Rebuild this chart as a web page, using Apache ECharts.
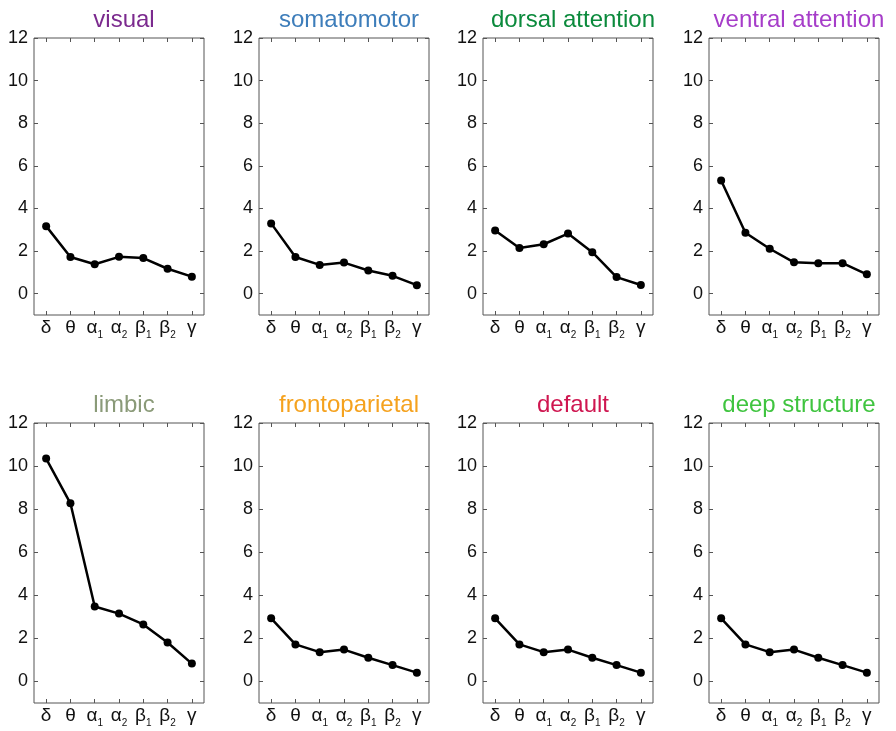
<!DOCTYPE html>
<html>
<head>
<meta charset="utf-8">
<script src="https://cdn.jsdelivr.net/npm/echarts@6/dist/echarts.min.js"></script>
<style>html,body{margin:0;padding:0;background:#fff;}#c{width:896px;height:731px;}</style>
</head>
<body>
<div id="c"></div>
<script>
// ---- data ----
var bands = ['δ', 'θ', 'α1', 'α2', 'β1', 'β2', 'γ'];
var yTicks = [0, 2, 4, 6, 8, 10, 12];
var panelNames = ['visual', 'somatomotor', 'dorsal attention', 'ventral attention',
                  'limbic', 'frontoparietal', 'default', 'deep structure'];
var titleColors = ['#7b2a8e', '#3d7dba', '#0b8a3c', '#a63dc9',
                   '#8a9a78', '#f5a21e', '#cf1650', '#3fc43f'];
var visual         = [3.17, 1.72, 1.38, 1.73, 1.67, 1.17, 0.80];
var somatomotor    = [3.30, 1.72, 1.35, 1.46, 1.09, 0.84, 0.40];
var dorsalAtt      = [2.97, 2.14, 2.32, 2.82, 1.95, 0.78, 0.41];
var ventralAtt     = [5.31, 2.86, 2.11, 1.47, 1.43, 1.43, 0.91];
var limbic         = [10.35, 8.27, 3.48, 3.15, 2.65, 1.81, 0.83];
var frontoparietal = [2.93, 1.72, 1.36, 1.48, 1.10, 0.76, 0.41];
var defaultNet     = [2.93, 1.72, 1.36, 1.48, 1.10, 0.76, 0.41];
var deepStructure  = [2.93, 1.72, 1.36, 1.48, 1.10, 0.76, 0.41];
var seriesData = [visual, somatomotor, dorsalAtt, ventralAtt, limbic, frontoparietal, defaultNet, deepStructure];

// ---- layout ----
var lefts = [34, 259, 483, 709];
var W = 170;
var rowTop = [38, 423];
var rowH = [277, 280];
var titleTop = [3, 388];

var chart = echarts.init(document.getElementById('c'));
var grids = [], xAxes = [], yAxes = [], series = [], titles = [];
var frameColor = '#555';
var textColor = '#111';
var labelFont = 'Liberation Sans, Arial, sans-serif';

function fmtBand(v) {
  var m = v.match(/^(.)(\d)$/);
  if (m) return '{b|' + m[1] + '}{s|' + m[2] + '}';
  return '{b|' + v + '}';
}

for (var i = 0; i < 8; i++) {
  var r = Math.floor(i / 4), c = i % 4;
  grids.push({left: lefts[c], top: rowTop[r], width: W, height: rowH[r],
              show: true, borderColor: frameColor, borderWidth: 1, backgroundColor: '#fff', containLabel: false});
  titles.push({text: panelNames[i], left: lefts[c] + W / 2, top: titleTop[r], textAlign: 'center',
               textStyle: {color: titleColors[i], fontSize: 24, fontWeight: 'normal', fontFamily: labelFont}});
  // bottom x axis
  xAxes.push({type: 'category', gridIndex: i, data: bands, boundaryGap: true, position: 'bottom',
    axisLine: {show: false, onZero: false},
    axisTick: {show: true, inside: true, alignWithLabel: true, interval: 0, length: 4, lineStyle: {color: frameColor}},
    axisLabel: {margin: 5, interval: 0, formatter: fmtBand,
      rich: {
        b: {fontSize: 19, color: textColor, fontFamily: labelFont, lineHeight: 20, padding: [0, 0, 3, 0], verticalAlign: 'bottom'},
        s: {fontSize: 10, color: textColor, fontFamily: labelFont, lineHeight: 10, verticalAlign: 'bottom'}
      }},
    splitLine: {show: false}});
  // top x axis (ticks only)
  xAxes.push({type: 'category', gridIndex: i, data: bands, boundaryGap: true, position: 'top',
    axisLine: {show: false, onZero: false},
    axisTick: {show: true, inside: true, alignWithLabel: true, interval: 0, length: 4, lineStyle: {color: frameColor}},
    axisLabel: {show: false}, splitLine: {show: false}});
  // left y axis
  yAxes.push({type: 'value', gridIndex: i, min: -1, max: 12, position: 'left',
    axisLine: {show: false, onZero: false},
    axisTick: {show: true, inside: true, length: 4, customValues: yTicks, lineStyle: {color: frameColor}},
    axisLabel: {show: true, margin: 6, customValues: yTicks, fontSize: 18, color: textColor, fontFamily: labelFont},
    splitLine: {show: false}});
  // right y axis (ticks only)
  yAxes.push({type: 'value', gridIndex: i, min: -1, max: 12, position: 'right',
    axisLine: {show: false, onZero: false},
    axisTick: {show: true, inside: true, length: 4, customValues: yTicks, lineStyle: {color: frameColor}},
    axisLabel: {show: false, customValues: yTicks},
    splitLine: {show: false}});
  series.push({type: 'line', xAxisIndex: 2 * i, yAxisIndex: 2 * i, data: seriesData[i],
    symbol: 'circle', symbolSize: 8, showSymbol: true,
    lineStyle: {color: '#000', width: 2.5}, itemStyle: {color: '#000'},
    animation: false, silent: true});
}

chart.setOption({
  animation: false,
  backgroundColor: '#fff',
  title: titles,
  grid: grids,
  xAxis: xAxes,
  yAxis: yAxes,
  series: series
});
</script>
</body>
</html>
